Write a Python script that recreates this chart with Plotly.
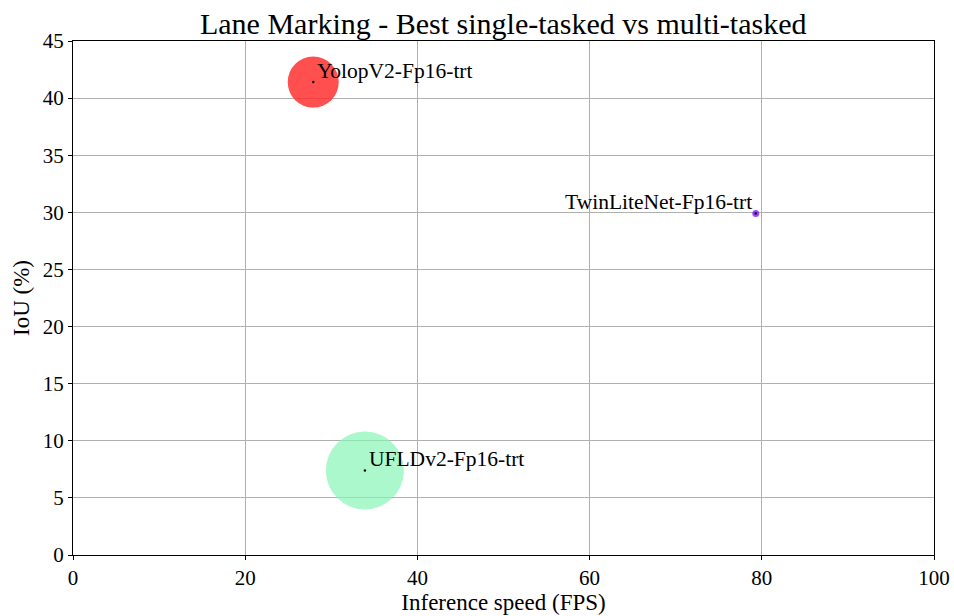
import plotly.graph_objects as go

# Lane marking results: inference speed vs IoU for each model
models = ["YolopV2-Fp16-trt", "TwinLiteNet-Fp16-trt", "UFLDv2-Fp16-trt"]
fps = [27.9, 79.3, 33.9]
iou = [41.4, 29.9, 7.4]
bubble_size = [51, 7, 78]          # bubble diameter (px)
colors = ["rgba(255,40,40,0.82)", "rgba(140,40,255,0.85)", "rgba(130,245,180,0.68)"]
label_side = ["right", "left", "right"]

x_ticks = [0, 20, 40, 60, 80, 100]
y_ticks = [0, 5, 10, 15, 20, 25, 30, 35, 40, 45]

FONT = "Liberation Serif"

fig = go.Figure()

for name, x, y, s, c in zip(models, fps, iou, bubble_size, colors):
    fig.add_trace(go.Scatter(
        x=[x], y=[y], mode="markers", name=name,
        marker=dict(size=s, color=c, line=dict(width=0)),
        showlegend=False, hoverinfo="skip",
    ))

# small black centre dots
fig.add_trace(go.Scatter(
    x=fps, y=iou, mode="markers",
    marker=dict(size=2.5, color="black", line=dict(width=0)),
    showlegend=False, hoverinfo="skip",
))

for name, x, y, side in zip(models, fps, iou, label_side):
    fig.add_annotation(
        x=x, y=y, text=name, showarrow=False,
        xanchor="left" if side == "right" else "right",
        yanchor="bottom",
        xshift=2 if side == "right" else -2,
        yshift=-3,
        font=dict(family=FONT, size=21.5, color="black"),
    )

axis_common = dict(
    showgrid=True, gridcolor="#b0b0b0", gridwidth=1,
    showline=True, linecolor="black", linewidth=1.2, mirror=True,
    ticks="outside", ticklen=4, tickwidth=1, tickcolor="black",
    zeroline=False, automargin=False,
    tickfont=dict(family=FONT, size=21, color="black"),
)

fig.update_xaxes(
    range=[0, 100], tickvals=x_ticks,
    title=dict(text="Inference speed (FPS)", font=dict(family=FONT, size=23, color="black"), standoff=2),
    **axis_common,
)
fig.update_yaxes(
    range=[0, 45], tickvals=y_ticks,
    title=dict(text="IoU (%)", font=dict(family=FONT, size=23, color="black"), standoff=6),
    **axis_common,
)

fig.update_layout(
    width=954, height=616,
    margin=dict(l=73, r=20, t=41, b=61),
    paper_bgcolor="white", plot_bgcolor="white",
    title=dict(
        text="Lane Marking - Best single-tasked vs multi-tasked",
        font=dict(family=FONT, size=30, color="black"),
        x=0.5275, xanchor="center", y=0.962, yanchor="middle",
    ),
)

fig.write_html("out.html")
